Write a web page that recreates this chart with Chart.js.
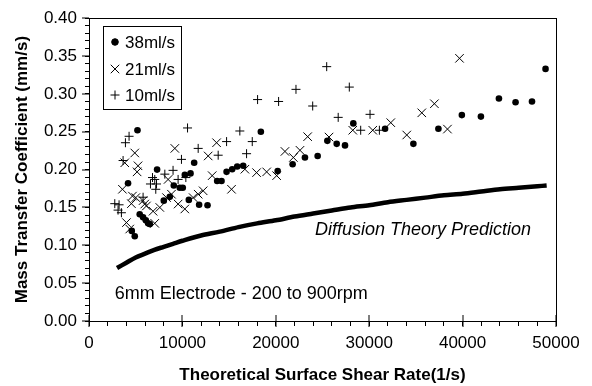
<!DOCTYPE html>
<html>
<head>
<meta charset="utf-8">
<script src="https://cdn.jsdelivr.net/npm/chart.js@4.4.1/dist/chart.umd.min.js"></script>
<style>
  html, body { margin: 0; padding: 0; background: #fff; }
  #wrap { width: 592px; height: 386px; }
</style>
</head>
<body>
<div id="wrap"><canvas id="chart"></canvas></div>
<script>
// values
const flow38 = [
  [4580,0.119],[4900,0.112],[4180,0.182],[5190,0.252],[5430,0.141],[5790,0.137],[6080,0.133],
  [6330,0.129],[6510,0.128],[7290,0.200],[8010,0.159],[8650,0.164],[9080,0.179],[9720,0.176],
  [10040,0.176],[10260,0.193],[10690,0.160],[10870,0.195],[11260,0.209],[11790,0.1535],[12690,0.153],
  [13720,0.185],[14190,0.185],[14730,0.197],[15330,0.2005],[15870,0.204],[16510,0.205],[18400,0.250],
  [20200,0.198],[21800,0.207],[23120,0.216],[24480,0.218],[25520,0.238],[26520,0.234],[27410,0.232],
  [28300,0.261],[31700,0.254],[34730,0.234],[37410,0.254],[39920,0.272],[41960,0.270],[43890,0.294],
  [45670,0.289],[47430,0.290],[48880,0.333]
];
const flow21 = [
  [3580,0.174],[3830,0.209],[4650,0.165],[4900,0.222],[5250,0.205],[5150,0.197],[4540,0.155],
  [5010,0.163],[5970,0.1545],[4010,0.130],[4360,0.1215],[5790,0.159],[6150,0.152],[6860,0.145],
  [7040,0.129],[7580,0.150],[8300,0.163],[8830,0.1675],[8470,0.187],[9190,0.228],[9540,0.1545],
  [10260,0.148],[11150,0.163],[11690,0.1675],[12220,0.172],[12760,0.218],[13190,0.192],[13660,0.2355],
  [15260,0.174],[16690,0.2005],[17940,0.196],[19020,0.197],[20090,0.192],[20980,0.224],[21880,0.216],
  [22590,0.2255],[23410,0.2435],[25700,0.243],[28240,0.252],[30380,0.252],[32310,0.262],[34020,0.2457],
  [35630,0.275],[36980,0.287],[38380,0.2535],[39670,0.347]
];
const flow10 = [
  [2760,0.155],[3220,0.1535],[3110,0.1465],[3470,0.143],[3650,0.212],[3900,0.2355],[4290,0.244],
  [5790,0.1635],[6580,0.181],[6800,0.1895],[7040,0.187],[7230,0.181],[7150,0.174],[8120,0.194],
  [9000,0.199],[9540,0.187],[9900,0.2135],[10370,0.1895],[10550,0.255],[11690,0.228],[13830,0.219],
  [14730,0.237],[16150,0.251],[16870,0.221],[17480,0.237],[18050,0.2925],[20300,0.290],[22160,0.306],
  [23950,0.284],[25450,0.336],[26680,0.269],[27870,0.309],[29090,0.252],[30090,0.273],[31090,0.252]
];
const theory = [
  [3000,0.070],[4000,0.077],[5000,0.084],[6000,0.089],[7000,0.094],[8000,0.098],[9000,0.102],
  [10000,0.106],[12000,0.113],[14000,0.118],[16000,0.124],[18000,0.129],[20000,0.133],[22000,0.138],
  [24000,0.142],[26000,0.146],[28000,0.150],[30000,0.153],[32000,0.157],[34000,0.160],[36000,0.163],
  [38000,0.166],[40000,0.168],[42000,0.171],[44000,0.174],[46000,0.176],[48000,0.178],[49000,0.179]
];
const seriesNames = ['38ml/s', '21ml/s', '10ml/s'];
// minor tick marks every 2000 / 0.01, labels on every 10000 / 0.05
const xTickValues = [];
for (let v = 0; v <= 50000; v += 2000) xTickValues.push(v);
const yTickValues = [];
for (let i = 0; i <= 40; i++) yTickValues.push(i / 100);

const FONT = "'Liberation Sans', Arial, sans-serif";
const toPts = arr => arr.map(p => ({x: p[0], y: p[1]}));
const frame = {display: true, color: '#000', width: 1};

// longer major ticks, legend box and the two notes
const decor = {
  id: 'decor',
  afterDraw(chart) {
    const ctx = chart.ctx;
    const a = chart.chartArea;
    const sx = chart.scales.x, sy = chart.scales.y;
    const L = Math.round(a.left), T = Math.round(a.top), B = Math.round(a.bottom);
    ctx.save();
    ctx.fillStyle = '#000';
    for (let v = 0; v <= 50000; v += 10000) {
      ctx.fillRect(Math.round(sx.getPixelForValue(v)) - 0.5, B - 6, 1, 12);
    }
    for (let i = 0; i <= 8; i++) {
      ctx.fillRect(L - 7, Math.round(sy.getPixelForValue(i * 0.05)) - 0.5, 7, 1);
    }

    // legend
    const lx = L + 14, ly = T + 8;
    ctx.fillStyle = '#fff';
    ctx.fillRect(lx, ly, 78, 83);
    ctx.strokeStyle = '#000';
    ctx.lineWidth = 1;
    ctx.strokeRect(lx + 0.5, ly + 0.5, 78, 83);
    ctx.fillStyle = '#000';
    ctx.font = '17px ' + FONT;
    ctx.textBaseline = 'middle';
    const rows = [ly + 16, ly + 43, ly + 69];
    const styles = ['circle', 'crossRot', 'cross'];
    const radii = [3.3, 6, 4.5];
    rows.forEach((ry, i) => {
      Chart.helpers.drawPoint(ctx, {pointStyle: styles[i], radius: radii[i], borderWidth: 1}, lx + 12, ry);
      ctx.fillText(seriesNames[i], lx + 22, ry + 1);
    });

    // notes
    ctx.font = 'italic 18px ' + FONT;
    ctx.fillText('Diffusion Theory Prediction', sx.getPixelForValue(24200), sy.getPixelForValue(0.120));
    ctx.font = '18px ' + FONT;
    ctx.fillText('6mm Electrode - 200 to 900rpm', sx.getPixelForValue(2750), sy.getPixelForValue(0.035));
    ctx.restore();
  }
};

new Chart(document.getElementById('chart'), {
  type: 'scatter',
  data: {
    datasets: [
      {label: seriesNames[0], data: toPts(flow38), pointStyle: 'circle', pointRadius: 3.3,
       backgroundColor: '#000', borderColor: '#000', borderWidth: 0},
      {label: seriesNames[1], data: toPts(flow21), pointStyle: 'crossRot', pointRadius: 6,
       borderColor: '#000', borderWidth: 1},
      {label: seriesNames[2], data: toPts(flow10), pointStyle: 'cross', pointRadius: 4.5,
       borderColor: '#000', borderWidth: 1},
      {label: 'Diffusion Theory Prediction', type: 'line', data: toPts(theory), showLine: true,
       pointRadius: 0, borderColor: '#000', borderWidth: 4.5, tension: 0.3, fill: false}
    ]
  },
  options: {
    responsive: true,
    maintainAspectRatio: false,
    animation: false,
    layout: {padding: {top: 12, right: 36, left: 0, bottom: 0}},
    plugins: {legend: {display: false}, tooltip: {enabled: false}},
    elements: {point: {hoverRadius: 0}},
    scales: {
      x: {
        type: 'linear', position: 'bottom', min: 0, max: 50000,
        afterBuildTicks: s => { s.ticks = xTickValues.map(v => ({value: v})); },
        afterFit: s => { s.height = 65; },
        grid: {display: true, drawOnChartArea: false, drawTicks: true, tickLength: 5, color: '#000'},
        border: frame,
        ticks: {color: '#000', font: {family: FONT, size: 17}, padding: 7, maxRotation: 0,
                autoSkip: false, callback: v => (v % 10000 === 0 ? String(v) : '')},
        title: {display: true, text: 'Theoretical Surface Shear Rate(1/s)', color: '#000',
                font: {family: FONT, size: 17, weight: 'bold'}, padding: {top: 0, bottom: 0}}
      },
      x2: {
        type: 'linear', position: 'top', min: 0, max: 50000,
        afterFit: s => { s.height = 0; },
        grid: {display: false, drawTicks: false}, border: frame, ticks: {display: false}
      },
      y: {
        type: 'linear', position: 'left', min: 0, max: 0.4,
        afterBuildTicks: s => { s.ticks = yTickValues.map(v => ({value: v})); },
        afterFit: s => { s.width = 89; },
        grid: {display: true, drawOnChartArea: false, drawTicks: true, tickLength: 4, color: '#000'},
        border: frame,
        ticks: {color: '#000', font: {family: FONT, size: 17}, padding: 8, autoSkip: false,
                callback: v => (Math.round(v * 100) % 5 === 0 ? Number(v).toFixed(2) : '')},
        title: {display: true, text: 'Mass Transfer Coefficient (mm/s)', color: '#000',
                font: {family: FONT, size: 17, weight: 'bold'}, padding: {top: 12, bottom: 0}}
      },
      y2: {
        type: 'linear', position: 'right', min: 0, max: 0.4,
        afterFit: s => { s.width = 0; },
        grid: {display: false, drawTicks: false}, border: frame, ticks: {display: false}
      }
    }
  },
  plugins: [decor]
});
</script>
</body>
</html>
